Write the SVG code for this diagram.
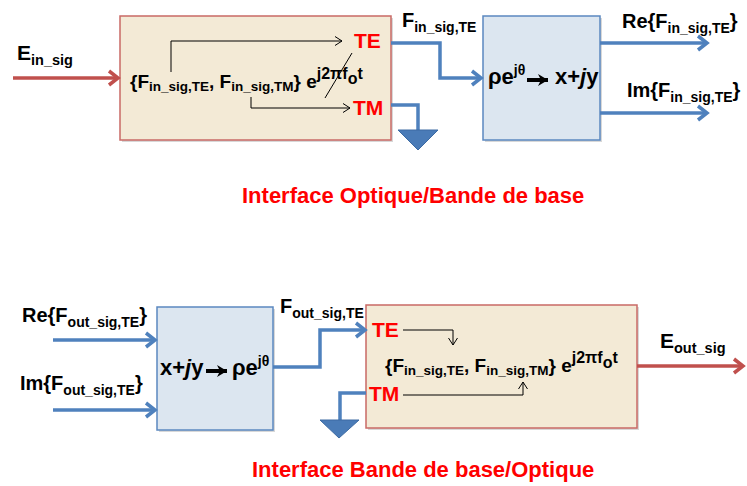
<svg xmlns="http://www.w3.org/2000/svg" width="747" height="486" viewBox="0 0 747 486">
<style>
text{font-family:"Liberation Sans",Arial,sans-serif;font-weight:bold;fill:#000}
.m{font-size:19px}
.s{font-size:13.5px}
.sup{font-size:16px}
.lab{font-size:20px}
.red{fill:#FF0000;font-size:21px}
.title{fill:#FF0000;font-size:22px}
.beige{fill:#F3EAD6;stroke:#C96A66;stroke-width:1.5}
.bluebox{fill:#DCE6F0;stroke:#5B88C0;stroke-width:1.5}
.shadow{fill:#D8D8D8}
.blue{fill:none;stroke:#4F81BD;stroke-width:3.5}
.redc{fill:none;stroke:#C0504D;stroke-width:3.5}
.thin{fill:none;stroke:#000;stroke-width:1}
.gnd{fill:#4A7BB7;stroke:#3C6AA3;stroke-width:1}
</style>
<defs>
<marker id="ab" markerUnits="userSpaceOnUse" markerWidth="16" markerHeight="18" refX="13" refY="9" orient="auto">
<path d="M4,2 L13,9 L4,16" fill="none" stroke="#4F81BD" stroke-width="3.5"/>
</marker>
<marker id="ar" markerUnits="userSpaceOnUse" markerWidth="16" markerHeight="18" refX="13" refY="9" orient="auto">
<path d="M4,2 L13,9 L4,16" fill="none" stroke="#C0504D" stroke-width="3.5"/>
</marker>
<marker id="ak" markerUnits="userSpaceOnUse" markerWidth="12" markerHeight="12" refX="10" refY="6" orient="auto">
<path d="M3,1.5 L10,6 L3,10.5" fill="none" stroke="#000" stroke-width="1"/>
</marker>
<marker id="abig" markerUnits="userSpaceOnUse" markerWidth="14" markerHeight="14" refX="12" refY="7" orient="auto">
<path d="M2,1 L12,7 L2,13 L5,7 Z" fill="#000"/>
</marker>
</defs>

<g id="opt2bb">
<rect class="shadow" x="122" y="18" width="271" height="124"/>
<rect class="beige" x="120" y="16" width="271" height="124"/>
<text class="m" x="130" y="88">{F<tspan class="s" dy="3">in_sig,TE</tspan><tspan dy="-3">, F</tspan><tspan class="s" dy="3">in_sig,TM</tspan><tspan dy="-3">} e</tspan><tspan class="sup" dy="-9">j2πf</tspan><tspan class="sup" dy="5">o</tspan><tspan class="sup" dy="-5">t</tspan></text>
<text class="red" x="354" y="48">TE</text>
<text class="red" x="353" y="115">TM</text>
</g>

<g id="polar2cart">
<rect class="shadow" x="485" y="18" width="117" height="124"/>
<rect class="bluebox" x="483" y="16" width="117" height="124"/>
<text style="font-size:22px" x="488" y="84">ρe<tspan font-size="14" dy="-9">jθ</tspan></text>
<text style="font-size:22px" x="555" y="84">x+<tspan font-style="italic">j</tspan>y</text>
</g>

<g id="cart2polar">
<rect class="shadow" x="159" y="309" width="116" height="123"/>
<rect class="bluebox" x="157" y="307" width="116" height="123"/>
<text style="font-size:22px" x="160" y="375">x+<tspan font-style="italic">j</tspan>y</text>
<text style="font-size:22px" x="232" y="375">ρe<tspan font-size="14" dy="-9">jθ</tspan></text>
</g>

<g id="bb2opt">
<rect class="shadow" x="368" y="307" width="271" height="123"/>
<rect class="beige" x="366" y="305" width="271" height="123"/>
<text class="m" x="385" y="372">{F<tspan class="s" dy="3">in_sig,TE</tspan><tspan dy="-3">, F</tspan><tspan class="s" dy="3">in_sig,TM</tspan><tspan dy="-3">} e</tspan><tspan class="sup" dy="-9">j2πf</tspan><tspan class="sup" dy="5">o</tspan><tspan class="sup" dy="-5">t</tspan></text>
<text class="red" x="372" y="337">TE</text>
<text class="red" x="369" y="401">TM</text>
</g>

<g id="labels">
<text x="17" y="60" style="font-size:21px">E<tspan font-size="14.5" dy="5">in_sig</tspan></text>
<text class="lab" x="402" y="27">F<tspan font-size="14" dy="5">in_sig,TE</tspan></text>
<text class="lab" x="622" y="28">Re{F<tspan font-size="14" dy="5">in_sig,TE</tspan><tspan dy="-5">}</tspan></text>
<text class="lab" x="627" y="97">Im{F<tspan font-size="14" dy="5">in_sig,TE</tspan><tspan dy="-5">}</tspan></text>
<text class="lab" x="22" y="322">Re{F<tspan font-size="14" dy="5">out_sig,TE</tspan><tspan dy="-5">}</tspan></text>
<text class="lab" x="20" y="390">Im{F<tspan font-size="14" dy="5">out_sig,TE</tspan><tspan dy="-5">}</tspan></text>
<text class="lab" x="280" y="313">F<tspan font-size="14" dy="5">out_sig,TE</tspan></text>
<text x="660" y="348" style="font-size:21px">E<tspan font-size="14.5" dy="5">out_sig</tspan></text>
<text class="title" x="242" y="203">Interface Optique/Bande de base</text>
<text class="title" x="252" y="477">Interface Bande de base/Optique</text>
</g>

<g id="connectors">
<path class="redc" d="M13,78 H118" marker-end="url(#ar)"/>
<path class="blue" d="M391,43 H440 V78 H481" marker-end="url(#ab)"/>
<path class="blue" d="M391,105 H418 V131"/>
<polygon class="gnd" points="398,130 438,130 418,150"/>
<path class="blue" d="M600,43 H707" marker-end="url(#ab)"/>
<path class="blue" d="M600,113 H707" marker-end="url(#ab)"/>
<path class="thin" d="M171,72 V41 H342" marker-end="url(#ak)"/>
<path class="thin" d="M251,97 V108 H350" marker-end="url(#ak)"/>
<path class="thin" d="M325,98 L352,53"/>
<path d="M527,80 H548" stroke="#000" stroke-width="4" marker-end="url(#abig)"/>

<path class="blue" d="M53,340 H155" marker-end="url(#ab)"/>
<path class="blue" d="M53,410 H155" marker-end="url(#ab)"/>
<path class="blue" d="M273,367 H320 V330 H365" marker-end="url(#ab)"/>
<path class="blue" d="M366,393 H340 V421"/>
<polygon class="gnd" points="320,420 359,420 339,438"/>
<path class="thin" d="M403,330 H453 V345" marker-end="url(#ak)"/>
<path class="thin" d="M403,395 H523 V382" marker-end="url(#ak)"/>
<path d="M206,371 H227" stroke="#000" stroke-width="4" marker-end="url(#abig)"/>
<path class="redc" d="M637,366 H743" marker-end="url(#ar)"/>
</g>
</svg>
